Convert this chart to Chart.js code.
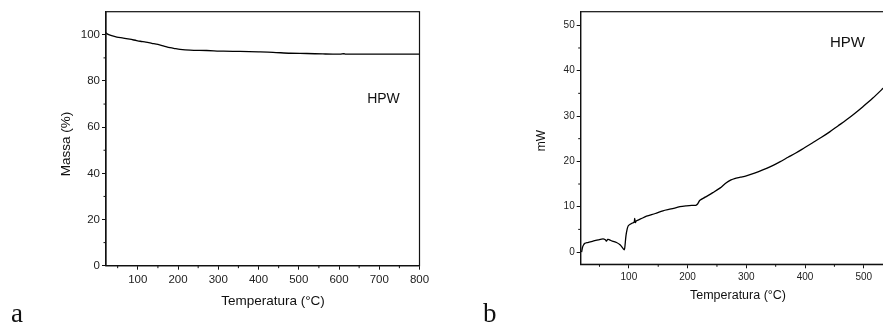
<!DOCTYPE html>
<html>
<head>
<meta charset="utf-8">
<script src="https://cdn.jsdelivr.net/npm/chart.js@4"></script>
<style>
  html, body { margin: 0; padding: 0; overflow: hidden; background: #fff; width: 883px; height: 326px; }
  canvas { position: absolute; top: 0; }
  #cA { left: 0; }
  #cB { left: 480px; }
  .lbl { position: absolute; font-family: "Liberation Serif", "Times New Roman", serif; font-size: 27px; color: #111; line-height: 1; }
</style>
</head>
<body>
<canvas id="cA" width="440" height="326"></canvas>
<canvas id="cB" width="460" height="326"></canvas>
<div class="lbl" style="left:11px; top:300px;">a</div>
<div class="lbl" style="left:483px; top:300px;">b</div>
<script>
// TGA (grafico a)
const tempA = [21, 25, 35, 48, 64, 80, 97, 106, 120, 135, 150, 165, 180, 193, 205, 230, 271, 313, 354, 400, 436, 479, 520, 560, 603, 612, 616, 620, 650, 700, 750, 800];
const massaA = [100.9, 100.3, 99.6, 99.0, 98.6, 98.1, 97.5, 97.2, 96.8, 96.3, 95.8, 95.1, 94.4, 94.0, 93.7, 93.4, 93.2, 92.9, 92.8, 92.6, 92.4, 92.0, 91.9, 91.7, 91.6, 91.8, 91.6, 91.6, 91.6, 91.6, 91.6, 91.6];
const xTicksA = [100, 200, 300, 400, 500, 600, 700, 800];
const xMinorA = [50, 150, 250, 350, 450, 550, 650, 750];
const yTicksA = [0, 20, 40, 60, 80, 100];
const yMinorA = [10, 30, 50, 70, 90];

// DSC (grafico b)
const tempB = [19.6, 21, 23, 25, 30, 39, 48, 56, 60, 62, 64, 67, 72, 79, 85, 90, 92, 93, 95, 97, 99, 103, 106, 109, 110, 111, 113, 120, 130, 145, 158, 172, 187, 198, 207, 214, 217, 221, 230, 243, 255, 266, 274, 280, 290, 300, 314, 328, 342, 357, 371, 385, 399, 413, 428, 442, 456, 470, 484, 498, 515, 532, 550];
const mwB = [0.0, 1.0, 1.6, 1.9, 2.1, 2.4, 2.7, 2.9, 2.7, 2.4, 2.8, 2.7, 2.4, 2.1, 1.6, 0.8, 0.5, 0.9, 3.5, 5.0, 5.8, 6.2, 6.4, 6.6, 7.4, 6.5, 6.9, 7.3, 7.9, 8.5, 9.1, 9.5, 10.0, 10.2, 10.3, 10.3, 10.6, 11.4, 12.1, 13.1, 14.1, 15.3, 15.9, 16.2, 16.5, 16.8, 17.4, 18.1, 18.9, 19.9, 20.9, 21.9, 23.0, 24.1, 25.3, 26.5, 27.8, 29.1, 30.5, 32.0, 33.9, 36.0, 38.3];
const xTicksB = [100, 200, 300, 400, 500, 600];
const xMinorB = [50, 150, 250, 350, 450, 550];
const yTicksB = [0, 10, 20, 30, 40, 50];
const yMinorB = [5, 15, 25, 35, 45];

const FONT = '"Liberation Sans", Arial, sans-serif';
const INK = '#111';

// caixa completa + ticks menores + textos
const frame = {
  id: 'frame',
  afterDraw(chart, args, opts) {
    const ctx = chart.ctx;
    const a = chart.chartArea;
    ctx.save();
    ctx.strokeStyle = INK;
    ctx.lineWidth = 1.2;
    ctx.strokeRect(a.left, a.top, a.right - a.left, a.bottom - a.top);

    ctx.lineWidth = 1;
    ctx.beginPath();
    opts.xMinor.forEach(v => {
      const px = chart.scales.x.getPixelForValue(v);
      ctx.moveTo(px, a.bottom);
      ctx.lineTo(px, a.bottom + 2.5);
    });
    opts.yMinor.forEach(v => {
      const py = chart.scales.y.getPixelForValue(v);
      ctx.moveTo(a.left, py);
      ctx.lineTo(a.left - 2.5, py);
    });
    ctx.stroke();

    ctx.fillStyle = INK;
    ctx.textAlign = 'center';
    ctx.textBaseline = 'middle';
    opts.texts.forEach(t => {
      ctx.save();
      ctx.font = t.size + 'px ' + FONT;
      ctx.translate(t.x, t.y);
      if (t.rot) ctx.rotate(-Math.PI / 2);
      ctx.fillText(t.text, 0, 0);
      ctx.restore();
    });
    ctx.restore();
  }
};

function makeChart(id, xs, ys, cfg) {
  const pts = xs.map((x, i) => ({ x: x, y: ys[i] }));
  return new Chart(document.getElementById(id), {
    type: 'line',
    data: {
      datasets: [{
        data: pts,
        borderColor: '#000',
        borderWidth: 1.3,
        pointRadius: 0,
        tension: 0.3,
        fill: false
      }]
    },
    options: {
      responsive: false,
      animation: false,
      layout: { padding: cfg.padding },
      plugins: {
        legend: { display: false },
        tooltip: { enabled: false },
        frame: { xMinor: cfg.xMinor, yMinor: cfg.yMinor, texts: cfg.texts }
      },
      scales: {
        x: {
          type: 'linear',
          min: cfg.xMin,
          max: cfg.xMax,
          afterBuildTicks: s => { s.ticks = cfg.xTicks.map(v => ({ value: v })); },
          afterFit: s => { s.height = cfg.xHeight; },
          grid: { drawOnChartArea: false, drawTicks: true, tickLength: 4, color: INK, lineWidth: 1 },
          border: { color: INK, width: 1.2 },
          ticks: { font: { family: FONT, size: cfg.xFont }, color: '#222', padding: 3, maxRotation: 0, autoSkip: false }
        },
        y: {
          min: cfg.yMin,
          max: cfg.yMax,
          afterBuildTicks: s => { s.ticks = cfg.yTicks.map(v => ({ value: v })); },
          afterFit: s => { s.width = cfg.yWidth; },
          grid: { drawOnChartArea: false, drawTicks: true, tickLength: 4, color: INK, lineWidth: 1 },
          border: { color: INK, width: 1.2 },
          ticks: { font: { family: FONT, size: cfg.yFont }, color: '#222', padding: 2, autoSkip: false }
        }
      }
    },
    plugins: [frame]
  });
}

makeChart('cA', tempA, massaA, {
  padding: { top: 11.7, right: 20.5, left: 0, bottom: 0 },
  xMin: 21, xMax: 800, yMin: 0, yMax: 110,
  xTicks: xTicksA, yTicks: yTicksA, xMinor: xMinorA, yMinor: yMinorA,
  xHeight: 60.3, yWidth: 106, xFont: 11.5, yFont: 11.5,
  texts: [
    { text: 'Massa (%)', x: 66, y: 144, size: 13.5, rot: true },
    { text: 'Temperatura (°C)', x: 273, y: 301.5, size: 13.5 },
    { text: 'HPW', x: 383.5, y: 99, size: 14 }
  ]
});

makeChart('cB', tempB, mwB, {
  padding: { top: 11.7, right: 17.5, left: 0, bottom: 0 },
  xMin: 18, xMax: 600, yMin: -2.7, yMax: 53,
  xTicks: xTicksB, yTicks: yTicksB, xMinor: xMinorB, yMinor: yMinorB,
  xHeight: 61.7, yWidth: 100.7, xFont: 10, yFont: 10,
  texts: [
    { text: 'mW', x: 61.7, y: 140.5, size: 12, rot: true },
    { text: 'Temperatura (°C)', x: 258, y: 295.5, size: 12.5 },
    { text: 'HPW', x: 367.5, y: 43, size: 15 }
  ]
});
</script>
</body>
</html>
